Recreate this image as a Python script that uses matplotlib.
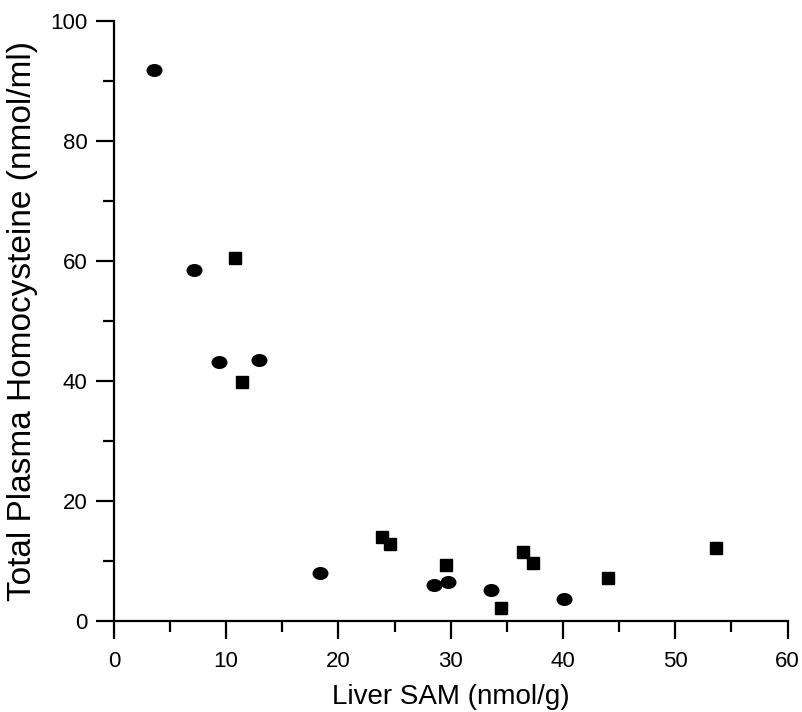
import numpy as np
import matplotlib.pyplot as plt
from matplotlib.path import Path
from matplotlib.ticker import MultipleLocator

plt.rcParams['font.family'] = ['Liberation Sans', 'DejaVu Sans']

# circles
circ_x = [3.6, 7.1, 9.4, 12.9, 18.4, 28.5, 29.8, 33.6, 40.1]
circ_y = [91.8, 58.4, 43.1, 43.4, 8.0, 5.9, 6.5, 5.2, 3.7]
# squares
sq_x = [10.75, 11.45, 23.9, 24.6, 29.6, 34.5, 36.4, 37.3, 44.0, 53.6]
sq_y = [60.4, 39.8, 14.0, 12.8, 9.3, 2.1, 11.4, 9.7, 7.1, 12.2]

# slightly flattened dot, like the scanned original
circ = Path.unit_circle()
ellipse = Path(circ.vertices * np.array([1.0, 0.8]), circ.codes)

fig = plt.figure(figsize=(8.02, 7.12), dpi=100)
ax = fig.add_axes([0.142, 0.128, 0.840, 0.843])

ax.plot(circ_x, circ_y, linestyle='none', marker=ellipse, markersize=10.5,
        color='black', clip_on=False)
ax.plot(sq_x, sq_y, linestyle='none', marker='s', markersize=8.5,
        color='black', clip_on=False)

ax.set_xlim(0, 60)
ax.set_ylim(0, 100)
ax.xaxis.set_major_locator(MultipleLocator(10))
ax.xaxis.set_minor_locator(MultipleLocator(5))
ax.yaxis.set_major_locator(MultipleLocator(20))
ax.yaxis.set_minor_locator(MultipleLocator(10))

for s in ['top', 'right']:
    ax.spines[s].set_visible(False)
for s in ['left', 'bottom']:
    ax.spines[s].set_linewidth(1.6)

ax.tick_params(which='major', direction='out', length=13, width=1.6,
               labelsize=16, pad=6)
ax.tick_params(which='major', axis='x', pad=9)
ax.tick_params(which='minor', direction='out', length=8, width=1.6)

ax.set_xlabel('Liver SAM (nmol/g)', fontsize=20, labelpad=8)
ax.set_ylabel('Total Plasma Homocysteine (nmol/ml)', fontsize=24, labelpad=9)

fig.savefig('out.png', dpi=100)
